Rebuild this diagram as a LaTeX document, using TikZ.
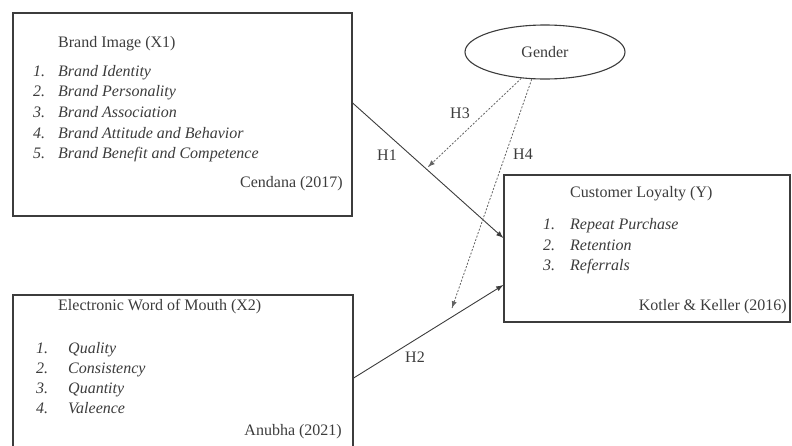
\documentclass[tikz,border=0pt]{standalone}
\usepackage{fontspec}
\setmainfont{Liberation Serif}
\usetikzlibrary{arrows,decorations.markings,shapes.geometric}
\definecolor{ink}{RGB}{60,60,60}
\tikzstyle{box} = [rectangle, draw=ink, line width=1.3pt, inner sep=0pt]
\tikzstyle{head} = [anchor=base west, inner sep=0pt, text=ink]
\tikzstyle{num} = [anchor=base west, inner sep=0pt, text=ink, font=\fontsize{16}{19}\selectfont\itshape]
\tikzstyle{item} = [anchor=base west, inner sep=0pt, text=ink, font=\fontsize{16}{19}\selectfont\itshape]
\tikzstyle{source} = [anchor=base east, inner sep=0pt, text=ink]
\tikzstyle{hyp} = [inner sep=0pt, text=ink]

\begin{document}
\begin{tikzpicture}[x=1pt, y=-1pt, font=\fontsize{16}{19}\selectfont]
        \tikzset{myptr/.style={decoration={markings,mark=at position 1 with %
    {\arrow[scale=1.3,>=latex]{>}}},postaction={decorate}}}
        \tikzset{moder/.style={draw=ink!80, line width=0.8pt, dash pattern=on 2pt off 1.6pt}}
        \useasboundingbox (0,0) rectangle (792,445);

        % boxes
        \node (brandImg) [box, minimum width=339pt, minimum height=203pt] at (182.5,114.5) {};
        \node (ewom) [box, minimum width=340pt, minimum height=160pt] at (183,375) {};
        \node (loyalty) [box, minimum width=286pt, minimum height=147pt] at (647,248.5) {};
        \node (gender) [ellipse, draw=ink, line width=1.1pt, minimum width=160pt, minimum height=54pt, inner sep=0pt, text=ink] at (545,52) {Gender};

        % Brand Image (X1)
        \node (biTitle) [head] at (58,47) {Brand Image (X1)};
        \node (biN1) [num] at (33,76) {1.};
        \node (biT1) [item] at (58,76) {Brand Identity};
        \node (biN2) [num] at (33,96) {2.};
        \node (biT2) [item] at (58,96) {Brand Personality};
        \node (biN3) [num] at (33,117) {3.};
        \node (biT3) [item] at (58,117) {Brand Association};
        \node (biN4) [num] at (33,138) {4.};
        \node (biT4) [item] at (58,138) {Brand Attitude and Behavior};
        \node (biN5) [num] at (33,158) {5.};
        \node (biT5) [item] at (58,158) {Brand Benefit and Competence};
        \node (biSrc) [source] at (343,187) {Cendana (2017)};

        % Electronic Word of Mouth (X2)
        \node (ewTitle) [head] at (58,310) {Electronic Word of Mouth (X2)};
        \node (ewN1) [num] at (36,353) {1.};
        \node (ewT1) [item] at (68,353) {Quality};
        \node (ewN2) [num] at (36,373) {2.};
        \node (ewT2) [item] at (68,373) {Consistency};
        \node (ewN3) [num] at (36,393) {3.};
        \node (ewT3) [item] at (68,393) {Quantity};
        \node (ewN4) [num] at (36,413) {4.};
        \node (ewT4) [item] at (68,413) {Valeence};
        \node (ewSrc) [source] at (342,435) {Anubha (2021)};

        % Customer Loyalty (Y)
        \node (clTitle) [head] at (570,197) {Customer Loyalty (Y)};
        \node (clN1) [num] at (543,229) {1.};
        \node (clT1) [item] at (570,229) {Repeat Purchase};
        \node (clN2) [num] at (543,250) {2.};
        \node (clT2) [item] at (570,250) {Retention};
        \node (clN3) [num] at (543,270) {3.};
        \node (clT3) [item] at (570,270) {Referrals};
        \node (clSrc) [source] at (787,310) {Kotler \& Keller (2016)};

        % hypotheses
        \node (h1) [hyp] at (387,155) {H1};
        \node (h2) [hyp] at (415,357) {H2};
        \node (h3) [hyp] at (460,113) {H3};
        \node (h4) [hyp] at (523,154) {H4};
        \coordinate (h3tip) at (428,167);
        \coordinate (h4tip) at (452,308);

        \draw [myptr, draw=ink, line width=0.9pt, shorten >=4pt] ([yshift=11.5pt]brandImg.east) -- ([yshift=10.5pt]loyalty.west);
        \draw [myptr, draw=ink, line width=0.9pt, shorten >=4pt] ([yshift=-3pt]ewom.east) -- ([yshift=-36.5pt]loyalty.west);
        \draw [myptr, moder] (gender.228) -- (h3tip);
        \draw [myptr, moder] (gender.244) -- (h4tip);
    \end{tikzpicture}
\end{document}
